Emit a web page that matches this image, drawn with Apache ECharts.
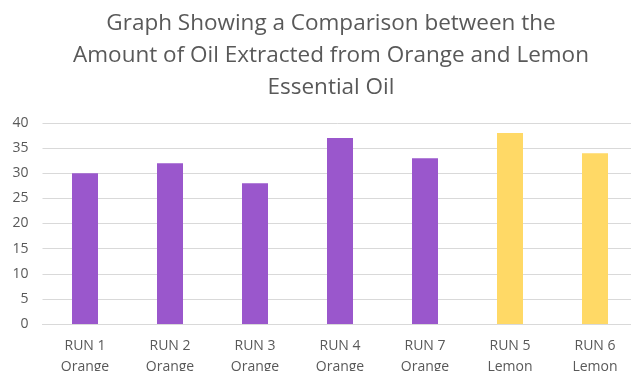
<!DOCTYPE html>
<html>
<head>
<meta charset="utf-8">
<script src="https://cdn.jsdelivr.net/npm/echarts@6/dist/echarts.min.js"></script>
<style>
  html, body { margin: 0; padding: 0; background: #fff; }
  #chart { width: 631px; height: 371px; }
</style>
</head>
<body>
<div id="chart"></div>
<script>
// data
var categories = ['RUN 1\nOrange', 'RUN 2\nOrange', 'RUN 3\nOrange', 'RUN 4\nOrange',
                  'RUN 7\nOrange', 'RUN 5\nLemon', 'RUN 6\nLemon'];
var oilAmount = [30, 32, 28, 37, 33, 38, 34];
var fruitType = ['orange', 'orange', 'orange', 'orange', 'orange', 'lemon', 'lemon'];
var yTicks = [0, 5, 10, 15, 20, 25, 30, 35, 40];

var colors = { orange: '#9A57CC', lemon: '#FFD966' };
var textColor = '#595959';
var fontName = 'Open Sans';

var barData = oilAmount.map(function(v, i) {
    return { value: v, itemStyle: { color: colors[fruitType[i]] } };
});

var myChart = echarts.init(document.getElementById('chart'));
var option = {
    animation: false,
    title: {
        text: 'Graph Showing a Comparison between the\nAmount of Oil Extracted from Orange and Lemon\nEssential Oil',
        left: 326,
        top: 3,
        textAlign: 'center',
        textStyle: {
            fontFamily: fontName,
            fontSize: 22.5,
            fontWeight: 'normal',
            color: textColor,
            lineHeight: 32
        }
    },
    grid: {
        left: 42.5,
        right: -6.5,
        top: 123,
        bottom: 47,
        outerBoundsMode: 'none'
    },
    xAxis: {
        type: 'category',
        data: categories,
        axisTick: { show: false },
        axisLine: { lineStyle: { color: '#d9d9d9' } },
        axisLabel: {
            color: textColor,
            fontFamily: fontName,
            fontSize: 14,
            lineHeight: 21,
            margin: 12
        }
    },
    yAxis: {
        type: 'value',
        min: yTicks[0],
        max: yTicks[yTicks.length - 1],
        interval: 5,
        axisLine: { show: false },
        axisTick: { show: false },
        splitLine: { lineStyle: { color: '#d9d9d9', width: 1 } },
        axisLabel: {
            color: textColor,
            fontFamily: fontName,
            fontSize: 14,
            margin: 14
        }
    },
    series: [{
        type: 'bar',
        data: barData,
        barWidth: 26
    }]
};
myChart.setOption(option);
</script>
</body>
</html>
